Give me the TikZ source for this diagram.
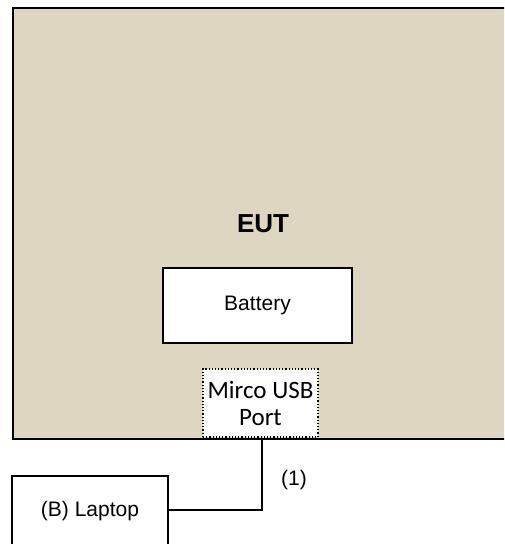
\documentclass[tikz,border=0pt]{standalone}
\usepackage{fontspec}
\setmainfont{Liberation Sans}
\newfontfamily\portfont{Carlito}
\usepackage{xcolor}
\usetikzlibrary{positioning}
\definecolor{eutbeige}{HTML}{DDD7C1}

\begin{document}
\begin{tikzpicture}[
x=1pt,y=-1pt,
eutbox/.style={rectangle,draw=black,fill=eutbeige,line width=2pt,anchor=north west,minimum width=520pt,minimum height=431pt},
unit/.style={rectangle,draw=black,fill=white,line width=1.6pt,font=\fontsize{21}{25}\selectfont},
portbox/.style={rectangle,draw=black,fill=white,line width=1.2pt,dotted,align=center,inner sep=0pt,font=\portfont\fontsize{25}{27}\selectfont},
wire/.style={line width=1.6pt,black}
]
\useasboundingbox (0,0) rectangle (504,544);
\clip (0,0) rectangle (504,544);
\node[eutbox] (eut) at (12,7) {};
\node[font=\bfseries\fontsize{26}{30}\selectfont] (eutlabel) at (263,224) {EUT};
\node[unit,minimum width=189pt,minimum height=75pt] (battery) at (257.5,305.5) {Battery};
\node[portbox,minimum width=115pt,minimum height=68pt] (port) at (260.5,403) {Mirco USB\\Port};
\node[unit,minimum width=156pt,minimum height=70pt] (laptop) at (90,511) {(B) Laptop};
\coordinate (bend) at (262,510);
\coordinate (portend) at (262,438);
\draw[wire] (portend) -- (bend) -- (laptop.east |- bend);
\node[font=\fontsize{21}{25}\selectfont] (cable) at (294,480) {(1)};
\end{tikzpicture}
\end{document}
